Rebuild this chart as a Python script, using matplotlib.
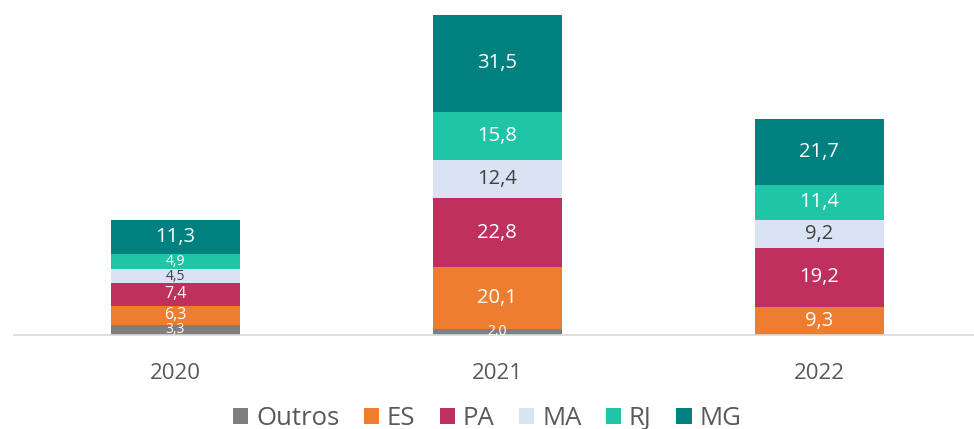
import numpy as np
import matplotlib.pyplot as plt

plt.rcParams['font.family'] = ['Open Sans', 'DejaVu Sans']

anos = ["2020", "2021", "2022"]
series = ["Outros", "ES", "PA", "MA", "RJ", "MG"]
outros = [3.3, 2.0, 0.0]
es = [6.3, 20.1, 9.3]
pa = [7.4, 22.8, 19.2]
ma = [4.5, 12.4, 9.2]
rj = [4.9, 15.8, 11.4]
mg = [11.3, 31.5, 21.7]

valores = [outros, es, pa, ma, rj, mg]
cores = ["#7f7f7f", "#ed7d31", "#c0305e", "#dae3f3", "#20c5a8", "#00807f"]
cor_texto = ["white", "white", "white", "#404040", "white", "white"]

fig = plt.figure(figsize=(9.74, 4.29), dpi=100)
ax = fig.add_axes([14 / 974, 94 / 429, 960 / 974, 321 / 429])

x = np.arange(len(anos))
base = np.zeros(len(anos))
for nome, v, c, tc in zip(series, valores, cores, cor_texto):
    v = np.array(v)
    ax.bar(x, v, 0.4, bottom=base, color=c, label=nome)
    for xi, b, h in zip(x, base, v):
        if h <= 0:
            continue
        fs = 14.5 if h >= 8 else (11.5 if h >= 6 else 10)
        ax.text(xi, b + h / 2, f"{h:.1f}".replace(".", ","), ha="center",
                va="center", color=tc, fontsize=fs)
    base += v

ax.set_xlim(-0.5, 2.48)
ax.set_ylim(0, 105)
ax.set_xticks(x)
ax.set_xticklabels(anos, fontsize=16, color="#595959")
ax.tick_params(axis="x", length=0, pad=20)
ax.set_yticks([])
for s in ["top", "right", "left"]:
    ax.spines[s].set_visible(False)
ax.spines["bottom"].set_color("#d9d9d9")
ax.spines["bottom"].set_linewidth(1.2)

leg = fig.legend(loc="lower center", bbox_to_anchor=(0.5, -0.058), ncol=6,
                 frameon=False, fontsize=18.5, handlelength=0.6, handleheight=0.6,
                 handletextpad=0.3, columnspacing=0.95)
for t in leg.get_texts():
    t.set_color("#595959")

fig.savefig("out.png", dpi=100)
